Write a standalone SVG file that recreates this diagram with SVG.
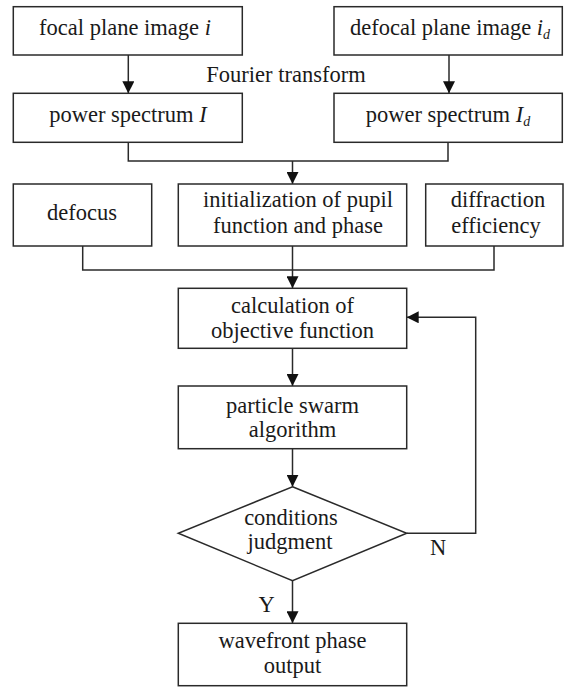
<svg xmlns="http://www.w3.org/2000/svg" width="564" height="687" viewBox="0 0 564 687">
<style>
.box{fill:#fff;stroke:#2a2a2a;stroke-width:1.5}
.ln{fill:none;stroke:#2a2a2a;stroke-width:1.5}
text{font-family:"Liberation Serif","Times New Roman",serif;font-size:22.5px;fill:#1a1a1a;text-anchor:middle}
.it{font-style:italic}
.sub{font-style:italic;font-size:14px}
</style>
<defs>
<marker id="ah" markerUnits="userSpaceOnUse" markerWidth="12" markerHeight="12" viewBox="0 0 12 12" refX="12" refY="6" orient="auto">
<path d="M0,0 L12,6 L0,12 Z" fill="#111"/>
</marker>
</defs>
<rect width="564" height="687" fill="#fff"/>
<g id="connectors">
<line class="ln" x1="128.3" y1="55" x2="128.3" y2="93.3" marker-end="url(#ah)"/>
<line class="ln" x1="449" y1="55" x2="449" y2="93.3" marker-end="url(#ah)"/>
<polyline class="ln" points="128.3,142.3 128.3,161 448,161 448,142.3"/>
<line class="ln" x1="292.5" y1="161" x2="292.5" y2="184" marker-end="url(#ah)"/>
<polyline class="ln" points="82.7,246 82.7,270 494,270 494,246"/>
<line class="ln" x1="292.5" y1="246" x2="292.5" y2="288.3" marker-end="url(#ah)"/>
<line class="ln" x1="292.5" y1="348.3" x2="292.5" y2="386" marker-end="url(#ah)"/>
<line class="ln" x1="292.5" y1="448.7" x2="292.5" y2="486.7" marker-end="url(#ah)"/>
<line class="ln" x1="292.5" y1="580.7" x2="292.5" y2="623.3" marker-end="url(#ah)"/>
<polyline class="ln" points="406.7,533.3 475.7,533.3 475.7,317.3 406.7,317.3" marker-end="url(#ah)"/>
<text x="286" y="82">Fourier transform</text>
<text x="438" y="555">N</text>
<text x="266.7" y="611.7">Y</text>
</g>
<g id="focal">
<rect class="box" x="13.3" y="6.7" width="229" height="48.3"/>
<text x="125" y="35">focal plane image <tspan class="it">i</tspan></text>
</g>
<g id="defocal">
<rect class="box" x="334" y="6.7" width="228.3" height="48.3"/>
<text x="450" y="35">defocal plane image <tspan class="it">i</tspan><tspan class="sub" dy="4">d</tspan></text>
</g>
<g id="power1">
<rect class="box" x="13.3" y="93.3" width="229" height="49"/>
<text x="128" y="121.7">power spectrum <tspan class="it">I</tspan></text>
</g>
<g id="power2">
<rect class="box" x="334" y="93.3" width="228.3" height="49"/>
<text x="448" y="121.7">power spectrum <tspan class="it">I</tspan><tspan class="sub" dy="4">d</tspan></text>
</g>
<g id="defocus">
<rect class="box" x="13.3" y="184" width="138.4" height="62"/>
<text x="82" y="220">defocus</text>
</g>
<g id="init">
<rect class="box" x="178.3" y="184" width="228.4" height="62"/>
<text x="298" y="206.7">initialization of pupil</text>
<text x="298" y="232.7">function and phase</text>
</g>
<g id="diffraction">
<rect class="box" x="425.7" y="184" width="137.3" height="62"/>
<text x="498" y="206.7">diffraction</text>
<text x="496" y="232.7">efficiency</text>
</g>
<g id="calc">
<rect class="box" x="178.3" y="288.3" width="228.4" height="60"/>
<text x="292.5" y="312.7">calculation of</text>
<text x="292.5" y="338.3">objective function</text>
</g>
<g id="pso">
<rect class="box" x="178.3" y="386" width="228.4" height="62.7"/>
<text x="292.5" y="412.7">particle swarm</text>
<text x="292.5" y="437.3">algorithm</text>
</g>
<g id="judge">
<polygon class="box" points="292.5,486.7 406.7,533.3 292.5,580.7 178.3,533.3"/>
<text x="291" y="525">conditions</text>
<text x="290" y="549.3">judgment</text>
</g>
<g id="output">
<rect class="box" x="178.3" y="623.3" width="228.4" height="62.4"/>
<text x="292.5" y="648.3">wavefront phase</text>
<text x="292.5" y="673.3">output</text>
</g>
</svg>
